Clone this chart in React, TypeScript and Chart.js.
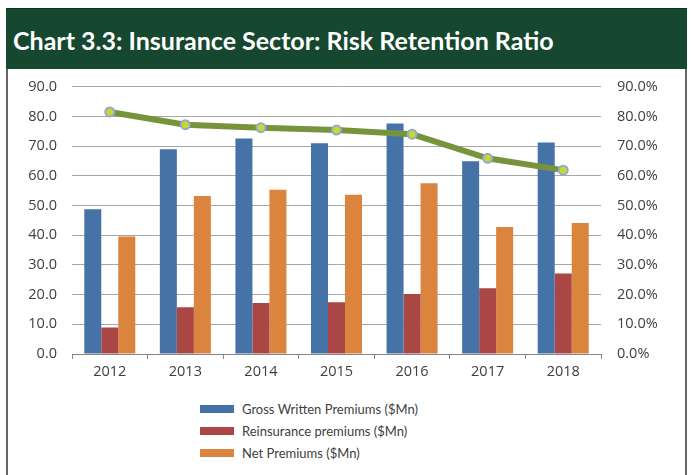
import React, { useEffect, useRef } from "react";
import { Chart, registerables } from "chart.js";

Chart.register(...registerables);

const categories = ["2012", "2013", "2014", "2015", "2016", "2017", "2018"];
const grossWritten = [48.7, 68.9, 72.6, 71.0, 77.6, 64.9, 71.2];
const reinsurance = [8.9, 15.7, 17.2, 17.4, 20.2, 22.1, 27.1];
const netPremiums = [39.6, 53.2, 55.3, 53.6, 57.5, 42.8, 44.1];
const retentionRatio = [81.5, 77.2, 76.2, 75.4, 74.0, 65.9, 61.9];

const seriesNames = [
  "Gross Written Premiums ($Mn)",
  "Reinsurance premiums ($Mn)",
  "Net Premiums ($Mn)",
];
const ratioName = "Risk Retention Ratio";
const barColors = ["#4572A7", "#AA4643", "#DB843D"];
const titleText = "Chart 3.3: Insurance Sector: Risk Retention Ratio";

const FONT = "Lato, 'Open Sans', sans-serif";
const TICK_FONT = "'Open Sans', Lato, sans-serif";
const TEXT = "#404040";

export default function App() {
  const ref = useRef<HTMLCanvasElement>(null);

  useEffect(() => {
    if (!ref.current) return;
    const chart = new Chart(ref.current, {
      type: "bar",
      data: {
        labels: categories,
        datasets: [
          {
            type: "line",
            label: ratioName,
            data: retentionRatio,
            yAxisID: "y1",
            borderColor: "#77933C",
            borderWidth: 6,
            tension: 0,
            pointRadius: 4.5,
            pointBorderWidth: 2,
            pointBorderColor: "#8FA8D4",
            pointBackgroundColor: "#C8D82C",
            order: 0,
          },
          {
            label: seriesNames[0],
            data: grossWritten,
            backgroundColor: barColors[0],
            yAxisID: "y",
            order: 1,
            categoryPercentage: 0.675,
            barPercentage: 1,
          },
          {
            label: seriesNames[1],
            data: reinsurance,
            backgroundColor: barColors[1],
            yAxisID: "y",
            order: 1,
            categoryPercentage: 0.675,
            barPercentage: 1,
          },
          {
            label: seriesNames[2],
            data: netPremiums,
            backgroundColor: barColors[2],
            yAxisID: "y",
            order: 1,
            categoryPercentage: 0.675,
            barPercentage: 1,
          },
        ] as any,
      },
      options: {
        responsive: false,
        animation: false,
        layout: { padding: { top: 0, left: 0, right: 0, bottom: 0 } },
        plugins: {
          legend: { display: false },
          tooltip: { enabled: false },
        },
        scales: {
          x: {
            grid: {
              display: true,
              drawOnChartArea: false,
              drawTicks: true,
              tickLength: 5,
              color: "#868686",
              offset: true,
            },
            border: { display: true, color: "#868686", width: 1 },
            ticks: {
              color: TEXT,
              font: { family: TICK_FONT, size: 14.5 },
              padding: 4,
            },
            afterFit: (s: any) => {
              s.height = 36;
            },
          },
          y: {
            position: "left",
            min: 0,
            max: 90,
            grid: { color: "#A6A6A6", lineWidth: 1, drawTicks: false },
            border: { display: false },
            ticks: {
              stepSize: 10,
              color: TEXT,
              font: { family: TICK_FONT, size: 14.5 },
              padding: 15,
              callback: (v: any) => Number(v).toFixed(1),
            },
            afterFit: (s: any) => {
              s.width = 72;
            },
          },
          y1: {
            position: "right",
            min: 0,
            max: 90,
            grid: { display: false, drawTicks: false },
            border: { display: false },
            ticks: {
              stepSize: 10,
              color: TEXT,
              font: { family: TICK_FONT, size: 14.5 },
              padding: 16,
              callback: (v: any) => Number(v).toFixed(1) + "%",
            },
            afterFit: (s: any) => {
              s.width = 90;
            },
          },
        },
      },
    });
    return () => chart.destroy();
  }, []);

  return (
    <div
      style={{
        position: "fixed",
        left: 0,
        top: 0,
        width: 691,
        height: 475,
        background: "#fff",
        overflow: "hidden",
      }}
    >
      <div
        style={{
          position: "absolute",
          left: 6,
          top: 8,
          width: 681,
          height: 480,
          boxSizing: "border-box",
          borderLeft: "2px solid #666",
          borderRight: "2px solid #666",
        }}
      />
      <div
        style={{
          position: "absolute",
          left: 6,
          top: 8,
          width: 681,
          height: 61,
          background: "#16472F",
          borderTop: "1px solid #0f3322",
          boxSizing: "border-box",
        }}
      >
        <div
          style={{
            position: "absolute",
            left: 7,
            top: 0,
            height: 60,
            lineHeight: "62px",
            color: "#fff",
            fontFamily: FONT,
            fontWeight: 700,
            fontSize: 25,
            whiteSpace: "nowrap",
          }}
        >
          {titleText}
        </div>
      </div>
      <canvas
        ref={ref}
        width={691}
        height={328}
        style={{ position: "absolute", left: 0, top: 62, width: 691, height: 328 }}
      />
      {seriesNames.map((name, i) => (
        <div
          key={name}
          style={{
            position: "absolute",
            left: 200,
            top: 398 + i * 22,
            height: 22,
            display: "flex",
            alignItems: "center",
            fontFamily: FONT,
            fontSize: 13,
            color: TEXT,
            whiteSpace: "nowrap",
          }}
        >
          <span
            style={{
              display: "inline-block",
              width: 34,
              height: 8,
              background: barColors[i],
              marginRight: 8,
            }}
          />
          <span>{name}</span>
        </div>
      ))}
    </div>
  );
}
